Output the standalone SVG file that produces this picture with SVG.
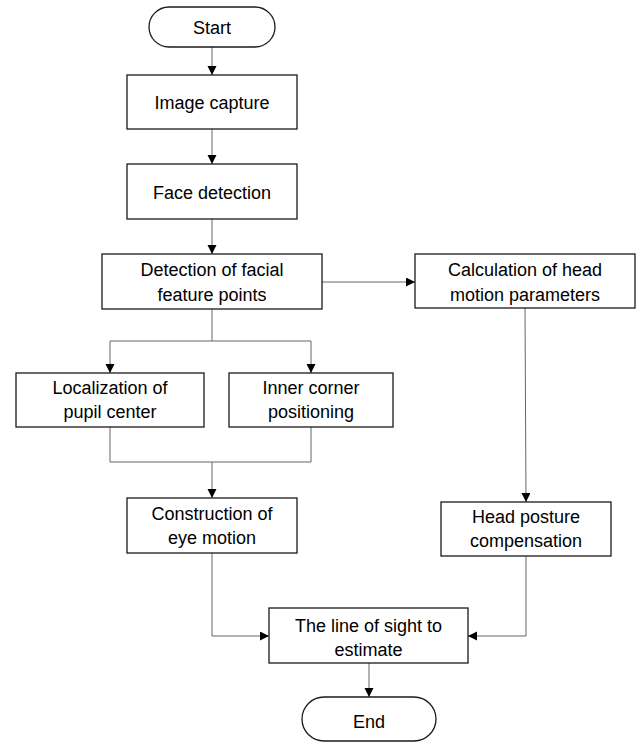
<svg xmlns="http://www.w3.org/2000/svg" width="637" height="743" viewBox="0 0 637 743">
<defs>
<marker id="arr" markerUnits="userSpaceOnUse" markerWidth="10" markerHeight="10" refX="9" refY="4.5" orient="auto">
<path d="M0,0 L9,4.5 L0,9 z" fill="#000"/>
</marker>
<style>
.box{fill:#fff;stroke:#1a1a1a;stroke-width:1.3}
.t{font-family:"Liberation Sans",Arial,sans-serif;font-size:18px;fill:#000;text-anchor:middle}
.c{fill:none;stroke:#666;stroke-width:1}
.a{marker-end:url(#arr)}
</style>
</defs>
<rect width="637" height="743" fill="#fff"/>
<g id="connectors">
<path class="c a" d="M212,47 V75"/>
<path class="c a" d="M212,129 V164"/>
<path class="c a" d="M212,219 V254"/>
<path class="c a" d="M322,282 H415"/>
<path class="c" d="M212,309 V341 M110,341 H311"/>
<path class="c a" d="M110,341 V373"/>
<path class="c a" d="M311,341 V373"/>
<path class="c" d="M110,427 V462 H311 M311,427 V462"/>
<path class="c a" d="M212,462 V498"/>
<path class="c a" d="M525,308 L526,502"/>
<path class="c a" d="M212,553 V636 H269"/>
<path class="c a" d="M526,556 V636 H468"/>
<path class="c a" d="M369,663 V697"/>
</g>
<g id="start">
<rect class="box" x="149" y="7" width="126" height="40" rx="20"/>
<text class="t" x="212" y="34">Start</text>
</g>
<g id="image-capture">
<rect class="box" x="127" y="75" width="170" height="54"/>
<text class="t" x="212" y="109">Image capture</text>
</g>
<g id="face-detection">
<rect class="box" x="127" y="164" width="170" height="55"/>
<text class="t" x="212" y="199">Face detection</text>
</g>
<g id="facial-feature-points">
<rect class="box" x="102" y="254" width="220" height="55"/>
<text class="t" x="212" y="276">Detection of facial</text>
<text class="t" x="212" y="301">feature points</text>
</g>
<g id="head-motion-parameters">
<rect class="box" x="415" y="254" width="220" height="54"/>
<text class="t" x="525" y="276">Calculation of head</text>
<text class="t" x="525" y="301">motion parameters</text>
</g>
<g id="pupil-center">
<rect class="box" x="16" y="373" width="188" height="54"/>
<text class="t" x="110" y="394">Localization of</text>
<text class="t" x="110" y="418">pupil center</text>
</g>
<g id="inner-corner">
<rect class="box" x="229" y="373" width="164" height="54"/>
<text class="t" x="311" y="394">Inner corner</text>
<text class="t" x="311" y="418">positioning</text>
</g>
<g id="eye-motion">
<rect class="box" x="127" y="498" width="170" height="55"/>
<text class="t" x="212" y="520">Construction of</text>
<text class="t" x="212" y="544">eye motion</text>
</g>
<g id="head-posture">
<rect class="box" x="441" y="502" width="170" height="54"/>
<text class="t" x="526" y="523">Head posture</text>
<text class="t" x="526" y="547">compensation</text>
</g>
<g id="line-of-sight">
<rect class="box" x="269" y="608" width="199" height="55"/>
<text class="t" x="368.5" y="632">The line of sight to</text>
<text class="t" x="368.5" y="656">estimate</text>
</g>
<g id="end">
<rect class="box" x="302" y="697" width="134" height="44" rx="22"/>
<text class="t" x="369" y="728">End</text>
</g>
</svg>
